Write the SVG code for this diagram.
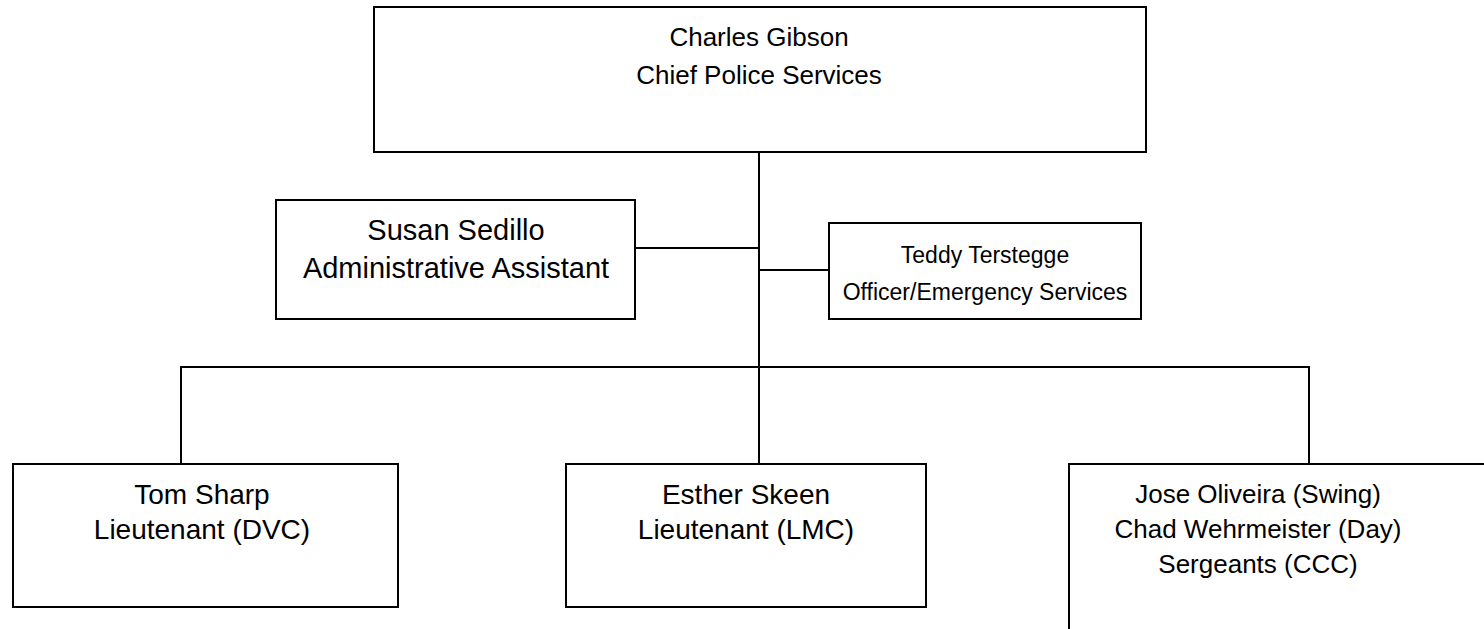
<svg xmlns="http://www.w3.org/2000/svg" width="1484" height="629" viewBox="0 0 1484 629">
<style>
.box{fill:#fff;stroke:#000;stroke-width:2}
.ln{stroke:#000;stroke-width:2;fill:none}
text{font-family:"Liberation Sans",Arial,sans-serif;fill:#000;text-anchor:middle}
.f-top{font-size:26px}
.f-sus{font-size:29px}
.f-ted{font-size:23px}
.f-lt{font-size:28px}
.f-jos{font-size:26px}
</style>
<rect width="1484" height="629" fill="#fff"/>
<g id="connectors">
<path class="ln" d="M759 152V464"/>
<path class="ln" d="M635 248H759"/>
<path class="ln" d="M759 270H829"/>
<path class="ln" d="M181 464V367H1309V464"/>
</g>
<g id="chief">
<rect class="box" x="374" y="7" width="772" height="145"/>
<text class="f-top" x="759" y="46">Charles Gibson</text>
<text class="f-top" x="759" y="84">Chief Police Services</text>
</g>
<g id="susan">
<rect class="box" x="276" y="200" width="359" height="119"/>
<text class="f-sus" x="456" y="240">Susan Sedillo</text>
<text class="f-sus" x="456" y="278">Administrative Assistant</text>
</g>
<g id="teddy">
<rect class="box" x="829" y="223" width="312" height="96"/>
<text class="f-ted" x="985" y="263">Teddy Terstegge</text>
<text class="f-ted" x="985" y="300">Officer/Emergency Services</text>
</g>
<g id="tom">
<rect class="box" x="13" y="464" width="385" height="143"/>
<text class="f-lt" x="202" y="504">Tom Sharp</text>
<text class="f-lt" x="202" y="539">Lieutenant (DVC)</text>
</g>
<g id="esther">
<rect class="box" x="566" y="464" width="360" height="143"/>
<text class="f-lt" x="746" y="504">Esther Skeen</text>
<text class="f-lt" x="746" y="539">Lieutenant (LMC)</text>
</g>
<g id="jose">
<rect class="box" x="1069" y="464" width="440" height="200"/>
<text class="f-jos" x="1258" y="503">Jose Oliveira (Swing)</text>
<text class="f-jos" x="1258" y="538">Chad Wehrmeister (Day)</text>
<text class="f-jos" x="1258" y="573">Sergeants (CCC)</text>
</g>
</svg>
